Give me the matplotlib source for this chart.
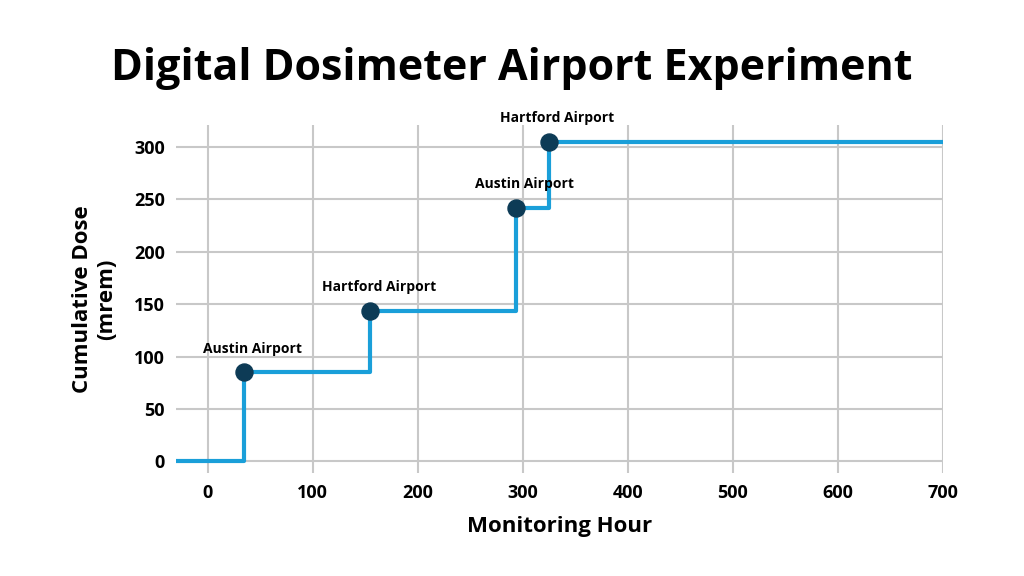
import matplotlib
matplotlib.use("Agg")
import matplotlib.pyplot as plt

step_x = [-30, 35, 155, 294, 325, 700]
step_y = [0, 85, 144, 242, 305, 305]
event_x = [35, 155, 294, 325]
event_y = [85, 144, 242, 305]
event_labels = ["Austin Airport", "Hartford Airport", "Austin Airport", "Hartford Airport"]

plt.rcParams['font.family'] = ['Open Sans', 'DejaVu Sans']
fig = plt.figure(figsize=(10.24, 5.76), dpi=100)
ax = fig.add_axes([176/1024, 1-473/576, (943-176)/1024, (473-125)/576])
ax.plot(step_x, step_y, drawstyle='steps-post', color='#1a9fd9', lw=3, zorder=3)
ax.scatter(event_x, event_y, s=150, color='#0d3b56', zorder=4)
for x, y, t in zip(event_x, event_y, event_labels):
    ax.annotate(t, (x, y), xytext=(6, 14), textcoords='offset points', ha='center',
                fontsize=10, fontweight='bold')
ax.set_xlim(-30, 700)
ax.set_ylim(-11, 321)
ax.set_xticks(range(0, 701, 100))
ax.set_yticks(range(0, 301, 50))
ax.grid(True, color='#c8c8c8', lw=1.5)
ax.set_axisbelow(True)
for s in ax.spines.values():
    s.set_visible(False)
ax.tick_params(length=0, labelsize=13, pad=8)
for l in ax.get_xticklabels() + ax.get_yticklabels():
    l.set_fontweight('bold')
ax.set_xlabel("Monitoring Hour", fontsize=16, fontweight='bold', labelpad=10)
ax.set_ylabel("Cumulative Dose\n(mrem)", fontsize=16, fontweight='bold', labelpad=12)
fig.text(0.5, 1-68/576, "Digital Dosimeter Airport Experiment", ha='center', va='center',
         fontsize=31, fontweight='bold')
fig.savefig("out.png", dpi=100)
